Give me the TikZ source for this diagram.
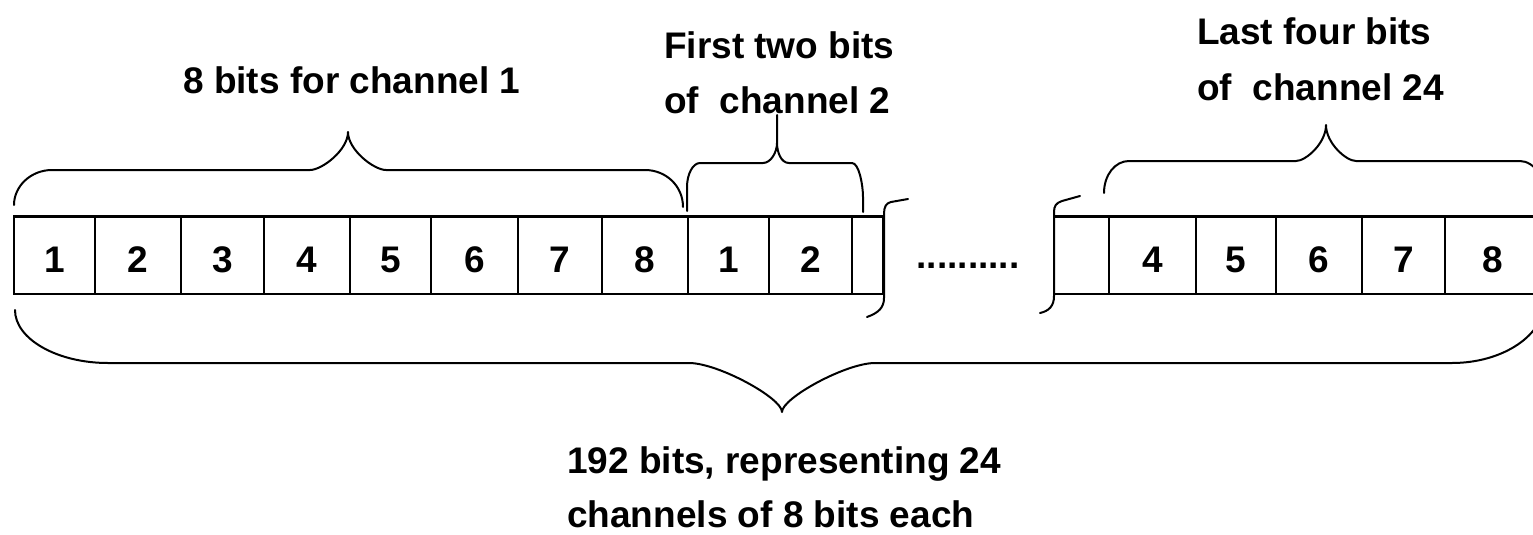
\documentclass[tikz,border=0pt]{standalone}
\usepackage{fontspec}
\setmainfont{Liberation Sans}
\newcommand\lblfont{\fontsize{37}{44}\selectfont\bfseries}
\tikzset{
  cell/.style={draw, line width=2.4pt, minimum height=77.5pt, inner sep=0pt,
               font=\lblfont, text height=34pt, text depth=0pt},
  brc/.style={line width=2pt, line cap=round, line join=round},
  lbl/.style={font=\lblfont, inner sep=0pt}
}
\begin{document}
\begin{tikzpicture}[x=1pt,y=-1pt]
\useasboundingbox (0,0) rectangle (1533,535);
\clip (0,0) rectangle (1533,535);
\fill[white] (0,0) rectangle (1533,535);

% left block of cells
\node[cell, minimum width=81pt] (l1)  at (54.5,255.25)  {1};
\node[cell, minimum width=86pt] (l2)  at (138,255.25)   {2};
\node[cell, minimum width=83pt] (l3)  at (222.5,255.25) {3};
\node[cell, minimum width=86pt] (l4)  at (307,255.25)   {4};
\node[cell, minimum width=81pt] (l5)  at (390.5,255.25) {5};
\node[cell, minimum width=87pt] (l6)  at (474.5,255.25) {6};
\node[cell, minimum width=84pt] (l7)  at (560,255.25)   {7};
\node[cell, minimum width=86pt] (l8)  at (645,255.25)   {8};
\node[cell, minimum width=81pt] (l9)  at (728.5,255.25) {1};
\node[cell, minimum width=83pt] (l10) at (810.5,255.25) {2};
\node[cell, minimum width=31pt] (l11) at (867.5,255.25) {};

% right block of cells
\node[cell, minimum width=55pt] (r1) at (1081.5,255.25) {};
\node[cell, minimum width=87pt] (r2) at (1152.5,255.25) {4};
\node[cell, minimum width=80pt] (r3) at (1236,255.25)   {5};
\node[cell, minimum width=86pt] (r4) at (1319,255.25)   {6};
\node[cell, minimum width=83pt] (r5) at (1403.5,255.25) {7};
\node[cell, minimum width=95pt] (r6) at (1492.5,255.25) {8};

% dots
\node[lbl, anchor=base] (dots) at (968,268) {..........};

% broken-off bracket ends
\draw[brc] (908,199) -- (891,202) .. controls (886,203) and (884,207) .. (884,214)
  -- (884,298) .. controls (884,308) and (878,313) .. (867,317);
\draw[brc] (1080,196) -- (1062,201) .. controls (1056,203) and (1054,206) .. (1054,212)
  -- (1054,296) .. controls (1054,306) and (1049,311) .. (1040,313);

% brace: 8 bits for channel 1
\draw[brc] (14,205) .. controls (14,186) and (31,170) .. (52,170) -- (310,170)
  .. controls (322,170) and (348,150) .. (348,132)
  .. controls (348,150) and (374,170) .. (386,170) -- (645,170)
  .. controls (666,170) and (683,186) .. (683,207);

% brace: first two bits of channel 2
\draw[brc] (687,211) -- (687,187) .. controls (687,174) and (693,163) .. (700,163) -- (763,163)
  .. controls (771,163) and (777,152) .. (777,143) -- (777,115) -- (777,143)
  .. controls (777,152) and (781,163) .. (789,163) -- (852,163)
  .. controls (859,163) and (863,185) .. (863,197) -- (863,212);

% brace: last four bits of channel 24
\draw[brc] (1104,193) .. controls (1104,175) and (1115,161) .. (1129,161) -- (1296,161)
  .. controls (1306,161) and (1326,143) .. (1326,125)
  .. controls (1326,143) and (1346,161) .. (1356,161) -- (1520,161)
  .. controls (1534,161) and (1548,180) .. (1548,200);

% big bottom brace
\draw[brc] (15,310) .. controls (15,339) and (57,363) .. (108,363) -- (689,363)
  .. controls (718,363) and (782,398) .. (782,412)
  .. controls (782,398) and (846,363) .. (875,363) -- (1452,363)
  .. controls (1503,363) and (1545,335) .. (1545,300);

% labels
\node[lbl, anchor=base west] (t1)  at (183,93)   {8 bits for channel 1};
\node[lbl, anchor=base west] (t2a) at (664,59)   {First two bits};
\node[lbl, anchor=base west] (t2b) at (664,113)  {of\ \ channel 2};
\node[lbl, anchor=base west] (t3a) at (1197,45)  {Last four bits};
\node[lbl, anchor=base west] (t3b) at (1197,100) {of\ \ channel 24};
\node[lbl, anchor=base west] (t4a) at (567,473)  {192 bits, representing 24};
\node[lbl, anchor=base west] (t4b) at (567,527)  {channels of 8 bits each};
\end{tikzpicture}
\end{document}
